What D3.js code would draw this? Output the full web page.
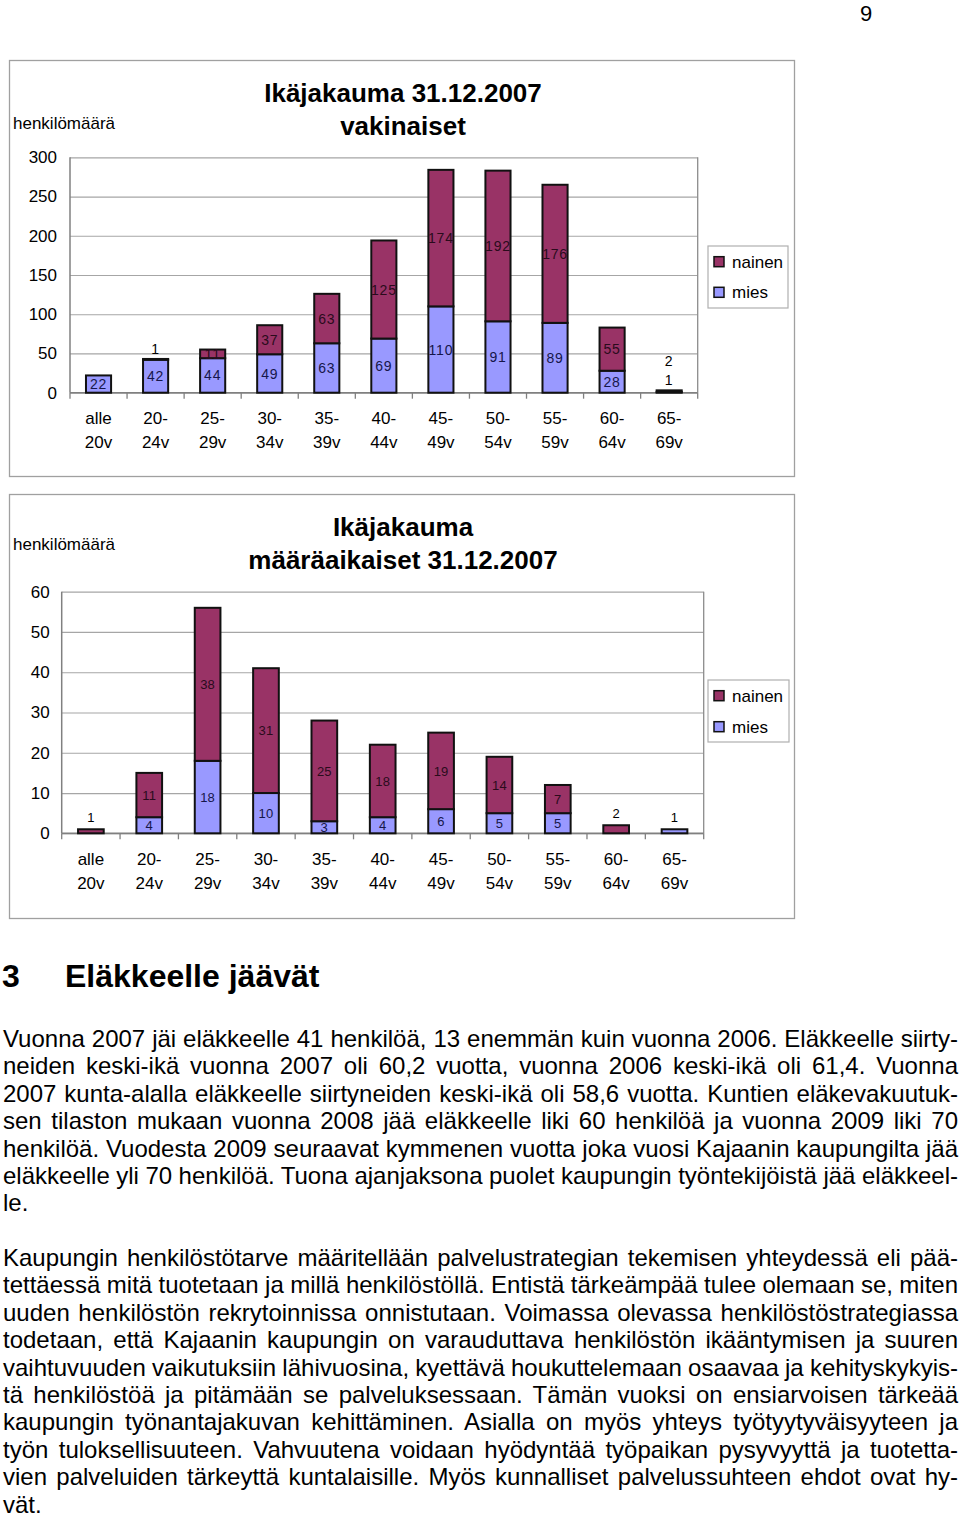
<!DOCTYPE html>
<html>
<head>
<meta charset="utf-8">
<script src="https://cdn.jsdelivr.net/npm/d3@7"></script>
<style>
  html, body { margin: 0; padding: 0; background: #fff; }
  svg { display: block; font-family: "Liberation Sans", Arial, sans-serif; }
</style>
</head>
<body>
<script>
// ---------- DATA ----------
const categories = ["alle 20v","20-24v","25-29v","30-34v","35-39v","40-44v","45-49v","50-54v","55-59v","60-64v","65-69v"];
const tickLine1 = ["alle","20-","25-","30-","35-","40-","45-","50-","55-","60-","65-"];
const tickLine2 = ["20v","24v","29v","34v","39v","44v","49v","54v","59v","64v","69v"];
const seriesNames = ["nainen","mies"];

// vakinaiset (permanent)
const vakMies   = [22,42,44,49,63,69,110,91,89,28,1];
const vakNainen = [0,1,11,37,63,125,174,192,176,55,2];
const vakTicks  = [0,50,100,150,200,250,300];

// määräaikaiset (fixed-term)
const maaMies   = [0,4,18,10,3,4,6,5,5,0,1];
const maaNainen = [1,11,38,31,25,18,19,14,7,2,0];
const maaTicks  = [0,10,20,30,40,50,60];

const para1 = [
  "Vuonna 2007 jäi eläkkeelle 41 henkilöä, 13 enemmän kuin vuonna 2006. Eläkkeelle siirty-",
  "neiden keski-ikä vuonna 2007 oli 60,2 vuotta, vuonna 2006 keski-ikä oli 61,4. Vuonna",
  "2007 kunta-alalla eläkkeelle siirtyneiden keski-ikä oli 58,6 vuotta. Kuntien eläkevakuutuk-",
  "sen tilaston mukaan vuonna 2008 jää eläkkeelle liki 60 henkilöä ja vuonna 2009 liki 70",
  "henkilöä. Vuodesta 2009 seuraavat kymmenen vuotta joka vuosi Kajaanin kaupungilta jää",
  "eläkkeelle yli 70 henkilöä. Tuona ajanjaksona puolet kaupungin työntekijöistä jää eläkkeel-",
  "le."
];
const para2 = [
  "Kaupungin henkilöstötarve määritellään palvelustrategian tekemisen yhteydessä eli pää-",
  "tettäessä mitä tuotetaan ja millä henkilöstöllä. Entistä tärkeämpää tulee olemaan se, miten",
  "uuden henkilöstön rekrytoinnissa onnistutaan. Voimassa olevassa henkilöstöstrategiassa",
  "todetaan, että Kajaanin kaupungin on varauduttava henkilöstön ikääntymisen ja suuren",
  "vaihtuvuuden vaikutuksiin lähivuosina, kyettävä houkuttelemaan osaavaa ja kehityskykyis-",
  "tä henkilöstöä ja pitämään se palveluksessaan. Tämän vuoksi on ensiarvoisen tärkeää",
  "kaupungin työnantajakuvan kehittäminen. Asialla on myös yhteys työtyytyväisyyteen ja",
  "työn tuloksellisuuteen. Vahvuutena voidaan hyödyntää työpaikan pysyvyyttä ja tuotetta-",
  "vien palveluiden tärkeyttä kuntalaisille. Myös kunnalliset palvelussuhteen ehdot ovat hy-",
  "vät."
];

// ---------- STYLE ----------
const COL_NAINEN = "#993366";
const COL_MIES = "#9999FF";
const LBL_NAINEN = "#2a0b1c";
const LBL_MIES = "#16164a";

const svg = d3.select("body").append("svg")
  .attr("width", 960).attr("height", 1518);
svg.append("rect").attr("width", 960).attr("height", 1518).attr("fill", "#fff");

// page number
svg.append("text").attr("x", 866).attr("y", 21).attr("text-anchor", "middle")
  .attr("font-size", 22).attr("fill", "#000").text("9");

function drawChart(cfg) {
  const g = svg.append("g");
  // frame
  g.append("rect").attr("x", cfg.frame[0]).attr("y", cfg.frame[1])
    .attr("width", cfg.frame[2]).attr("height", cfg.frame[3])
    .attr("fill", "#fff").attr("stroke", "#a0a0a0").attr("stroke-width", 1.3);

  // title
  cfg.title.forEach((t, i) => {
    g.append("text").attr("x", cfg.titleX).attr("y", cfg.titleY[i])
      .attr("text-anchor", "middle").attr("font-size", 26).attr("font-weight", "bold")
      .attr("fill", "#000").text(t);
  });
  // y label
  g.append("text").attr("x", 13).attr("y", cfg.yLabelY).attr("font-size", 17)
    .attr("fill", "#000").text("henkilömäärä");

  const [L, T, R, B] = cfg.plot;
  const x = d3.scaleBand().domain(categories).range([L, R]).paddingInner(0.56).paddingOuter(0.28);
  const y = d3.scaleLinear().domain([0, cfg.ticks[cfg.ticks.length - 1]]).range([B, T]);

  // gridlines
  const grid = g.append("g").attr("transform", `translate(${L},0)`)
    .call(d3.axisLeft(y).tickValues(cfg.ticks).tickSize(-(R - L)).tickFormat(""));
  grid.select(".domain").remove();
  grid.selectAll("line").attr("stroke", "#a6a6a6").attr("stroke-width", 1.2);

  // plot border right
  g.append("line").attr("x1", R).attr("x2", R).attr("y1", T).attr("y2", B)
    .attr("stroke", "#8c8c8c").attr("stroke-width", 1.3);

  // y tick labels
  const ya = g.append("g").attr("transform", `translate(${L},0)`)
    .call(d3.axisLeft(y).tickValues(cfg.ticks).tickSize(0).tickPadding(cfg.yPad));
  ya.select(".domain").remove();
  ya.selectAll("text").attr("font-size", 17).attr("font-family", "Liberation Sans, Arial, sans-serif")
    .attr("fill", "#000");

  // left axis line
  g.append("line").attr("x1", L).attr("x2", L).attr("y1", T).attr("y2", B)
    .attr("stroke", "#808080").attr("stroke-width", 1.5);

  // x axis
  const xa = g.append("g").attr("transform", `translate(0,${B})`)
    .call(d3.axisBottom(x).tickSize(0).tickFormat(""));
  xa.select(".domain").remove();
  g.append("line").attr("x1", L).attr("x2", R).attr("y1", B).attr("y2", B)
    .attr("stroke", "#808080").attr("stroke-width", 1.5);
  d3.range(categories.length + 1).forEach(i => {
    const xx = x.range()[0] + i * x.step();
    g.append("line").attr("x1", xx).attr("x2", xx).attr("y1", B).attr("y2", B + 6)
      .attr("stroke", "#808080").attr("stroke-width", 1.3);
  });
  categories.forEach((c, i) => {
    const cx = x(c) + x.bandwidth() / 2;
    g.append("text").attr("x", cx).attr("y", cfg.xLabY[0]).attr("text-anchor", "middle")
      .attr("font-size", 17).attr("fill", "#000").text(tickLine1[i]);
    g.append("text").attr("x", cx).attr("y", cfg.xLabY[1]).attr("text-anchor", "middle")
      .attr("font-size", 17).attr("fill", "#000").text(tickLine2[i]);
  });

  // stacked bars
  const rows = categories.map((c, i) => ({ cat: c, mies: cfg.mies[i], nainen: cfg.nainen[i] }));
  const stack = d3.stack().keys(["mies", "nainen"])(rows);
  const colors = { mies: COL_MIES, nainen: COL_NAINEN };
  const lblColors = { mies: LBL_MIES, nainen: LBL_NAINEN };
  stack.forEach(layer => {
    g.append("g").selectAll("rect").data(layer.filter(d => d[1] - d[0] > 0)).join("rect")
      .attr("x", d => x(d.data.cat))
      .attr("width", x.bandwidth())
      .attr("y", d => y(d[1]))
      .attr("height", d => y(d[0]) - y(d[1]))
      .attr("fill", colors[layer.key])
      .attr("stroke", "#111").attr("stroke-width", 2);
  });

  // labels
  rows.forEach((r, i) => {
    const top = y(r.mies + r.nainen);
    let k = 0;
    [["mies", 0, r.mies], ["nainen", r.mies, r.mies + r.nainen]].forEach(([key, a, b]) => {
      const v = b - a;
      if (v <= 0) return;
      const cx = x(r.cat) + x.bandwidth() / 2;
      let cy, col;
      if (v <= 2) {
        cy = top - cfg.smallOff - 19 * k; k++;
        col = "#000";
      } else {
        cy = (y(a) + y(b)) / 2;
        col = lblColors[key];
      }
      g.append("text").attr("x", cx).attr("y", cy).attr("dy", "0.36em")
        .attr("text-anchor", "middle").attr("font-size", cfg.lblSize)
        .attr("letter-spacing", cfg.lblSpacing).attr("fill", col).text(v);
    });
  });

  // legend
  const [lx, ly, lw, lh] = cfg.legend;
  g.append("rect").attr("x", lx).attr("y", ly).attr("width", lw).attr("height", lh)
    .attr("fill", "#fff").attr("stroke", "#b0b0b0").attr("stroke-width", 1.2);
  seriesNames.forEach((s, i) => {
    const cy = cfg.legendRows[i];
    g.append("rect").attr("x", lx + 6).attr("y", cy - 5).attr("width", 10).attr("height", 10)
      .attr("fill", s === "nainen" ? COL_NAINEN : COL_MIES).attr("stroke", "#111").attr("stroke-width", 1.5);
    g.append("text").attr("x", lx + 24).attr("y", cy).attr("dy", "0.35em")
      .attr("font-size", 17).attr("fill", "#000").text(s);
  });
}

drawChart({
  frame: [9.5, 60.5, 785, 416],
  title: ["Ikäjakauma 31.12.2007", "vakinaiset"],
  titleX: 403, titleY: [102, 135],
  yLabelY: 129,
  plot: [70, 157.3, 697.7, 392.7],
  ticks: vakTicks, yPad: 13,
  xLabY: [424, 448],
  mies: vakMies, nainen: vakNainen,
  smallOff: 10, lblSize: 14, lblSpacing: 0.8,
  legend: [708, 246, 80, 62], legendRows: [261.7, 292.3]
});

drawChart({
  frame: [9.5, 494.5, 785, 424],
  title: ["Ikäjakauma", "määräaikaiset 31.12.2007"],
  titleX: 403, titleY: [536, 569],
  yLabelY: 550,
  plot: [61.7, 591.7, 703.7, 833.3],
  ticks: maaTicks, yPad: 12,
  xLabY: [865, 889],
  mies: maaMies, nainen: maaNainen,
  smallOff: 12, lblSize: 13, lblSpacing: 0.2,
  legend: [708, 680, 81, 62], legendRows: [695.7, 726.7]
});

// ---------- TEXT SECTION ----------
svg.append("text").attr("x", 2).attr("y", 987).attr("font-size", 32).attr("font-weight", "bold")
  .attr("fill", "#000").text("3");
svg.append("text").attr("x", 65).attr("y", 987).attr("font-size", 32).attr("font-weight", "bold")
  .attr("fill", "#000").text("Eläkkeelle jäävät");

const LEFT = 3, RIGHT = 958, LINE_H = 27.4, FS = 24;
function drawPara(lines, y0) {
  lines.forEach((ln, i) => {
    const t = svg.append("text").attr("x", LEFT).attr("y", y0 + i * LINE_H)
      .attr("font-size", FS).attr("fill", "#000").attr("xml:space", "preserve").text(ln);
    if (i === lines.length - 1) return;
    const len = t.node().getComputedTextLength();
    const spaces = (ln.match(/ /g) || []).length;
    const extra = (RIGHT - LEFT) - len;
    if (spaces > 0 && extra / spaces > -2.5) {
      t.attr("word-spacing", extra / spaces);
    } else {
      t.attr("textLength", RIGHT - LEFT).attr("lengthAdjust", "spacingAndGlyphs");
    }
  });
}
drawPara(para1, 1047);
drawPara(para2, 1266);
</script>
</body>
</html>
